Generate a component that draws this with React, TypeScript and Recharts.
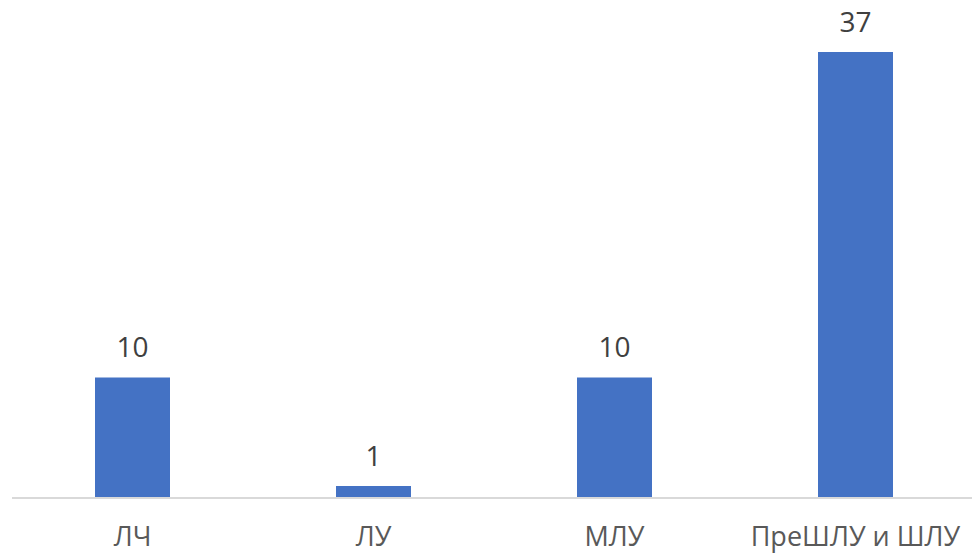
import React from 'react';
import { BarChart, Bar, XAxis, YAxis, LabelList } from 'recharts';

const categories = ['ЛЧ', 'ЛУ', 'МЛУ', 'ПреШЛУ и ШЛУ'];
const values = [10, 1, 10, 37];

const data = categories.map((name, i) => ({ name, value: values[i] }));

const Tick = (props: any) => {
  const { x, y, payload } = props;
  return (
    <text x={x} y={y + 48} textAnchor="middle" fill="#595959" fontSize={27} fontFamily="'Open Sans', sans-serif">
      {payload.value}
    </text>
  );
};

export default function App() {
  return (
    <div style={{ position: 'fixed', left: 0, top: 0, width: 972, height: 553, overflow: 'hidden', background: '#fff' }}>
      <BarChart width={980} height={553} data={data} margin={{ top: 52, right: 4, left: 12, bottom: 25 }}>
        <XAxis dataKey="name" tickLine={false} tickSize={0} tickMargin={0} height={30}
          axisLine={{ stroke: '#d9d9d9', strokeWidth: 2 }} tick={<Tick />} interval={0} />
        <YAxis hide domain={[0, 37]} />
        <Bar dataKey="value" fill="#4472C4" barSize={75} isAnimationActive={false}>
          <LabelList dataKey="value" position="top" offset={20} fill="#404040" fontSize={28}
            fontFamily="'Open Sans', sans-serif" />
        </Bar>
      </BarChart>
    </div>
  );
}
